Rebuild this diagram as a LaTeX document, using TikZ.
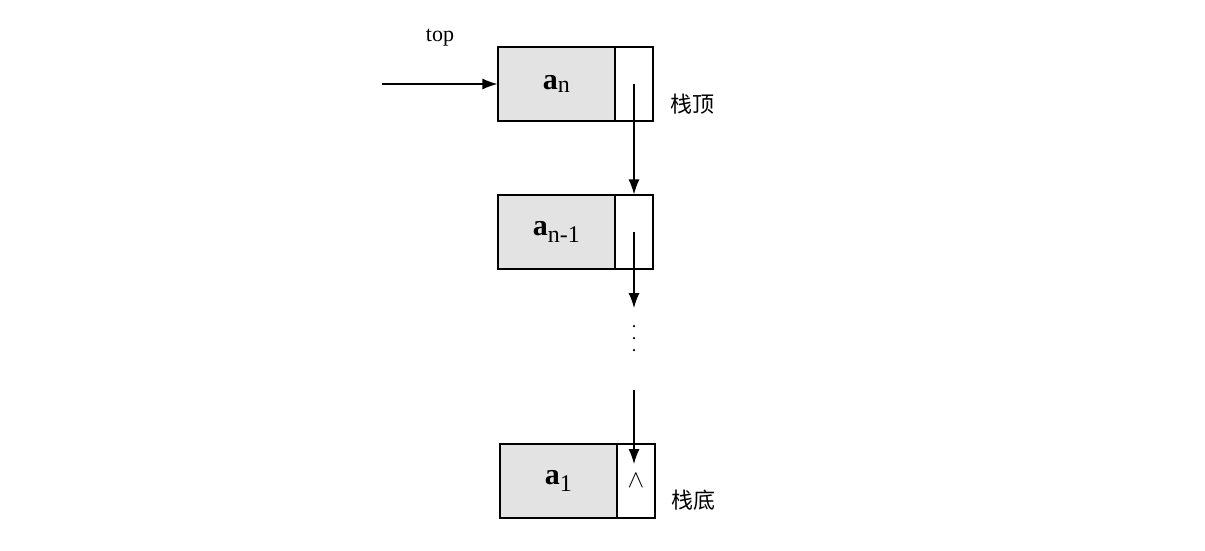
\documentclass[tikz,border=0pt]{standalone}
\usepackage{fontspec}
\usetikzlibrary{arrows.meta}
\setmainfont{Liberation Serif}
\newfontfamily\cjk{Noto Sans CJK SC}
\begin{document}
\begin{tikzpicture}[x=1pt,y=-1pt,
  data/.style={draw,line width=1.2pt,fill=gray!22,minimum width=117pt,minimum height=74pt,inner sep=0pt,font=\fontsize{30}{32}\selectfont\bfseries},
  ptr/.style={draw,line width=1.2pt,fill=white,minimum width=38pt,minimum height=74pt,inner sep=0pt},
  lnk/.style={-{Latex[length=15pt,width=11pt]},line width=1.2pt},
  dot/.style={circle,fill,inner sep=0pt,minimum size=2.5pt},
  lbl/.style={font=\cjk\fontsize{22}{24}\selectfont}]
\useasboundingbox (0,0) rectangle (1205,550);
\node[data] (d1) at (556.5,84) {a\textsubscript{\normalfont\fontsize{24}{26}\selectfont n}};
\node[ptr] (p1) at (634,84) {};
\node[data] (d2) at (556.5,232) {a\textsubscript{\normalfont\fontsize{24}{26}\selectfont n-1}};
\node[ptr] (p2) at (634,232) {};
\node[data] (d3) at (558.5,481) {a\textsubscript{\normalfont\fontsize{24}{26}\selectfont 1}};
\node[ptr] (p3) at (636,481) {\fontsize{24}{26}\selectfont$\wedge$};
\coordinate (s) at (382,84);
\node[font=\fontsize{22}{24}\selectfont] (top) at (440,38) {top};
\draw[lnk] (s) -- (d1.west);
\draw[lnk] (p1.center) -- (p2.north);
\coordinate (e2) at (634,308);
\draw[lnk] (p2.center) -- (e2);
\node[dot] (v1) at (634,326) {};
\node[dot] (v2) at (634,338) {};
\node[dot] (v3) at (634,350) {};
\coordinate (s3) at (634,390);
\coordinate (e3) at (634,464);
\draw[lnk] (s3) -- (e3);
\node[lbl] (l1) at (692,104) {栈顶};
\node[lbl] (l2) at (693,500) {栈底};
\end{tikzpicture}
\end{document}
